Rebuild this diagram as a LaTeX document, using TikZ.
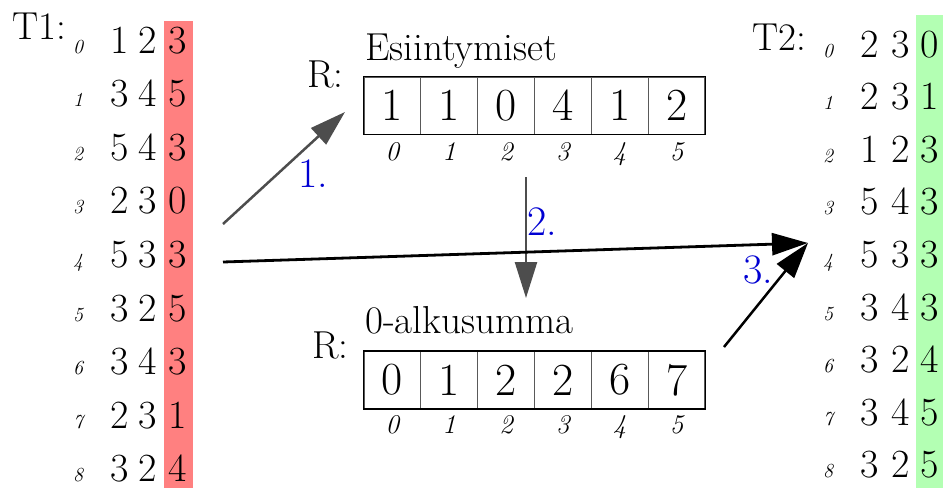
\documentclass[tikz,border=0pt]{standalone}
\usepackage{fontspec}
\usetikzlibrary{arrows.meta}
\definecolor{tred}{RGB}{255,128,128}
\definecolor{tgreen}{RGB}{179,255,179}
\definecolor{agray}{RGB}{77,77,77}
\definecolor{lblue}{RGB}{0,0,210}
\begin{document}
\begin{tikzpicture}[x=1pt,y=-1pt,
  txt/.style={inner sep=0pt,anchor=base west,font=\fontsize{39}{39}\selectfont},
  dig/.style={inner sep=0pt,anchor=base,font=\fontsize{40}{40}\selectfont},
  idx/.style={inner sep=0pt,anchor=base,font=\fontsize{20}{20}\selectfont\itshape},
  cellbox/.style={draw=black!65,line width=1pt,minimum width=56.83pt,minimum height=57pt,inner sep=0pt,font=\fontsize{46}{46}\selectfont},
  aidx/.style={inner sep=0pt,anchor=base,font=\fontsize{27}{27}\selectfont\itshape},
  numlbl/.style={inner sep=0pt,anchor=base west,text=lblue,font=\fontsize{42}{42}\selectfont},
  grayarrow/.style={draw=agray,line width=2.5pt,-{Triangle[length=36pt,width=22pt]}},
  blackarrow/.style={draw=black,line width=2.8pt,-{Triangle[length=36pt,width=22pt]}}]

\useasboundingbox (0,0) rectangle (943,488);

% highlighted key columns
\fill[tred] (164,21) rectangle (193,488);
\fill[tgreen] (916,15) rectangle (943,488);

% T1
\node[txt] (t1lbl) at (12,39) {T1:};
\foreach \r/\a/\b/\c in {0/1/2/3,1/3/4/5,2/5/4/3,3/2/3/0,4/5/3/3,5/3/2/5,6/3/4/3,7/2/3/1,8/3/2/4}{
  \pgfmathsetmacro\yy{53+53.6*\r}
  \node[idx] (t1i\r) at (78,\yy) {\r};
  \node[dig] (t1a\r) at (120,\yy) {\a};
  \node[dig] (t1b\r) at (148,\yy) {\b};
  \node[dig] (t1c\r) at (178,\yy) {\c};
}

% T2
\node[txt] (t2lbl) at (752,50) {T2:};
\foreach \r/\a/\b/\c in {0/2/3/0,1/2/3/1,2/1/2/3,3/5/4/3,4/5/3/3,5/3/4/3,6/3/2/4,7/3/4/5,8/3/2/5}{
  \pgfmathsetmacro\yy{57+52.6*\r}
  \node[idx] (t2i\r) at (828,\yy) {\r};
  \node[dig] (t2a\r) at (870,\yy) {\a};
  \node[dig] (t2b\r) at (901,\yy) {\b};
  \node[dig] (t2c\r) at (930,\yy) {\c};
}

% top array
\node[txt] (rtop) at (307,87) {R:};
\node[txt] (esi) at (365,60) {Esiintymiset};
\foreach \i/\v in {0/1,1/1,2/0,3/4,4/1,5/2}{
  \pgfmathsetmacro\xx{364+56.83*(\i+0.5)}
  \node[cellbox] (ra\i) at (\xx,105.5) {\v};
  \node[aidx] (rai\i) at (\xx,160) {\i};
}
\draw[black,line width=1.3pt] (ra0.north west) rectangle (ra5.south east);

% bottom array
\node[txt] (rbot) at (312,358) {R:};
\node[txt] (alku) at (365,333) {0-alkusumma};
\foreach \i/\v in {0/0,1/1,2/2,3/2,4/6,5/7}{
  \pgfmathsetmacro\xx{364+56.83*(\i+0.5)}
  \node[cellbox] (rb\i) at (\xx,380) {\v};
  \node[aidx] (rbi\i) at (\xx,433) {\i};
}
\draw[black,line width=1.3pt] (rb0.north west) rectangle (rb5.south east);

% arrow end points
\coordinate (a1s) at (223,224);
\coordinate (a1e) at (345,112);
\coordinate (a2s) at (526,177);
\coordinate (a2e) at (526,298);
\coordinate (ams) at (223,262);
\coordinate (tgt) at (808,243);
\coordinate (a3s) at (724,347);

\draw[grayarrow] (a1s) -- (a1e);
\draw[grayarrow] (a2s) -- (a2e);
\draw[blackarrow] (ams) -- (tgt);
\draw[blackarrow,line width=2.5pt] (a3s) -- (tgt);

% step labels
\node[numlbl] (n1) at (298,187) {1.};
\node[numlbl] (n2) at (527,235) {2.};
\node[numlbl] (n3) at (743,283) {3.};
\end{tikzpicture}
\end{document}
